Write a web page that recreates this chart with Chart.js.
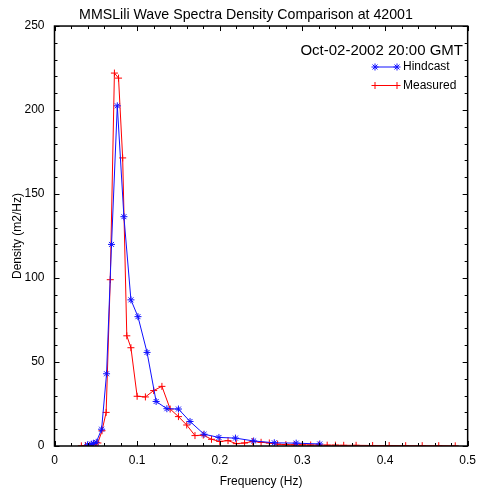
<!DOCTYPE html>
<html>
<head>
<meta charset="utf-8">
<script src="https://cdn.jsdelivr.net/npm/chart.js@4.4.0/dist/chart.umd.min.js"></script>
<style>
  html, body { margin: 0; padding: 0; background: #fff; }
  #wrap { width: 483px; height: 493px; }
</style>
</head>
<body>
<div id="wrap"><canvas id="chart" width="483" height="493"></canvas></div>
<script>
// Hindcast (model) spectrum
const hindcastFreq = [0.040, 0.0445, 0.047, 0.0505, 0.057, 0.063, 0.069, 0.076, 0.084, 0.0925,
  0.101, 0.112, 0.123, 0.136, 0.150, 0.164, 0.181, 0.199, 0.219, 0.241, 0.266, 0.2925, 0.321];
const hindcastDensity = [0.7, 1.1, 1.5, 2.2, 10, 43, 120, 202.5, 136.5, 87,
  77, 55.7, 26.5, 22.2, 22, 14.6, 7, 5.1, 4.7, 3, 1.9, 1.7, 1.2];

// Measured (buoy) spectrum
const measuredFreq = [0.0325, 0.0375, 0.0425, 0.0475, 0.0525, 0.0575, 0.0625, 0.0675, 0.0725, 0.0775,
  0.0825, 0.0875, 0.0925, 0.10, 0.11, 0.12, 0.13, 0.14, 0.15, 0.16,
  0.17, 0.18, 0.19, 0.20, 0.21, 0.22, 0.23, 0.24, 0.25, 0.26,
  0.27, 0.28, 0.29, 0.30, 0.31, 0.32, 0.33, 0.34, 0.35, 0.365,
  0.385, 0.405, 0.425, 0.445, 0.465, 0.485];
const measuredDensity = [0.1, 0.2, 0.4, 0.8, 1.8, 9.1, 20, 99, 222, 219,
  171.5, 65.6, 58.5, 29.6, 29.2, 33, 35.5, 22, 17.5, 12.5,
  6.2, 6.5, 4, 2.7, 3.2, 1.4, 1.8, 2.7, 2.2, 1.8,
  1.1, 0.8, 0.7, 0.7, 0.6, 0.6, 0.5, 0.5, 0.4, 0.4,
  0.3, 0.3, 0.2, 0.2, 0.2, 0.1];

const xTicks = [0, 0.1, 0.2, 0.3, 0.4, 0.5];
const yTicks = [0, 50, 100, 150, 200, 250];

const titleText = 'MMSLili Wave Spectra Density Comparison at 42001';
const dateText = 'Oct-02-2002 20:00 GMT';

const FONT = "'Liberation Sans', Arial, Helvetica, sans-serif";
Chart.defaults.font.family = FONT;
Chart.defaults.color = '#000';

function toPoints(xs, ys) {
  return xs.map((x, i) => ({ x, y: ys[i] }));
}

// frame with inward major/minor ticks, date text and inset legend
const frameAndLegend = {
  id: 'frameAndLegend',
  afterDraw(chart) {
    const { ctx, chartArea: a, scales: { x, y } } = chart;
    ctx.save();
    ctx.strokeStyle = '#000';
    ctx.lineWidth = 1.5;
    ctx.strokeRect(a.left, a.top, a.right - a.left, a.bottom - a.top);

    ctx.lineWidth = 1;
    ctx.beginPath();
    for (let i = 0; i <= 25; i++) {
      const px = Math.round(x.getPixelForValue(i * 0.02)) + 0.5;
      const len = i % 5 === 0 ? 5 : 3;
      ctx.moveTo(px, a.bottom); ctx.lineTo(px, a.bottom - len);
      ctx.moveTo(px, a.top); ctx.lineTo(px, a.top + len);
    }
    for (let i = 0; i <= 25; i++) {
      const py = Math.round(y.getPixelForValue(i * 10)) + 0.5;
      const len = i % 5 === 0 ? 5 : 3;
      ctx.moveTo(a.left, py); ctx.lineTo(a.left + len, py);
      ctx.moveTo(a.right, py); ctx.lineTo(a.right - len, py);
    }
    ctx.stroke();

    // date label
    ctx.fillStyle = '#000';
    ctx.font = '15px ' + FONT;
    ctx.textAlign = 'right';
    ctx.textBaseline = 'alphabetic';
    ctx.fillText(dateText, 463, 55);

    // legend
    ctx.font = '12px ' + FONT;
    ctx.textAlign = 'left';
    ctx.textBaseline = 'middle';
    chart.data.datasets.forEach((ds, i) => {
      const yy = 67 + i * 18.5;
      ctx.strokeStyle = ds.borderColor;
      ctx.fillStyle = ds.borderColor;
      ctx.lineWidth = 1;
      ctx.beginPath();
      ctx.moveTo(375, yy); ctx.lineTo(397, yy);
      ctx.stroke();
      const style = { pointStyle: ds.pointStyle, radius: ds.pointRadius, rotation: 0, borderWidth: 1 };
      Chart.helpers.drawPoint(ctx, style, 375, yy);
      Chart.helpers.drawPoint(ctx, style, 397, yy);
      ctx.fillStyle = '#000';
      ctx.fillText(ds.label, 403, yy);
    });
    ctx.restore();
  }
};

new Chart(document.getElementById('chart'), {
  type: 'scatter',
  data: {
    datasets: [
      {
        label: 'Hindcast',
        data: toPoints(hindcastFreq, hindcastDensity),
        showLine: true,
        borderColor: '#1010ff',
        backgroundColor: '#1010ff',
        borderWidth: 1,
        pointStyle: 'star',
        pointRadius: 3.5,
        pointBorderWidth: 1
      },
      {
        label: 'Measured',
        data: toPoints(measuredFreq, measuredDensity),
        showLine: true,
        borderColor: '#ff0000',
        backgroundColor: '#ff0000',
        borderWidth: 1,
        pointStyle: 'cross',
        pointRadius: 3.5,
        pointBorderWidth: 1
      }
    ]
  },
  options: {
    responsive: false,
    animation: false,
    layout: { padding: { left: 19.5, right: 10.5, top: 0, bottom: 0 } },
    plugins: {
      legend: { display: false },
      tooltip: { enabled: false },
      title: {
        display: true,
        text: titleText,
        color: '#000',
        font: { size: 14.2, weight: 'normal' },
        padding: { top: 7, bottom: 2 }
      }
    },
    scales: {
      x: {
        type: 'linear',
        min: 0,
        max: 0.5,
        grid: { display: false, drawTicks: false },
        border: { display: false },
        afterBuildTicks: s => { s.ticks = xTicks.map(v => ({ value: v })); },
        afterFit: s => { s.height = 47; },
        ticks: {
          padding: 7,
          font: { size: 12 },
          callback: v => String(v)
        },
        title: {
          display: true,
          text: 'Frequency (Hz)',
          font: { size: 12 },
          padding: { top: 0, bottom: 4 }
        }
      },
      y: {
        type: 'linear',
        min: 0,
        max: 250,
        grid: { display: false, drawTicks: false },
        border: { display: false },
        afterBuildTicks: s => { s.ticks = yTicks.map(v => ({ value: v })); },
        afterFit: s => { s.width = 35; },
        ticks: {
          padding: 10,
          font: { size: 12 },
          callback: v => String(v)
        },
        title: {
          display: true,
          text: 'Density (m2/Hz)',
          font: { size: 12 },
          padding: { top: -8.7, bottom: 0 }
        }
      }
    }
  },
  plugins: [frameAndLegend]
});
</script>
</body>
</html>
